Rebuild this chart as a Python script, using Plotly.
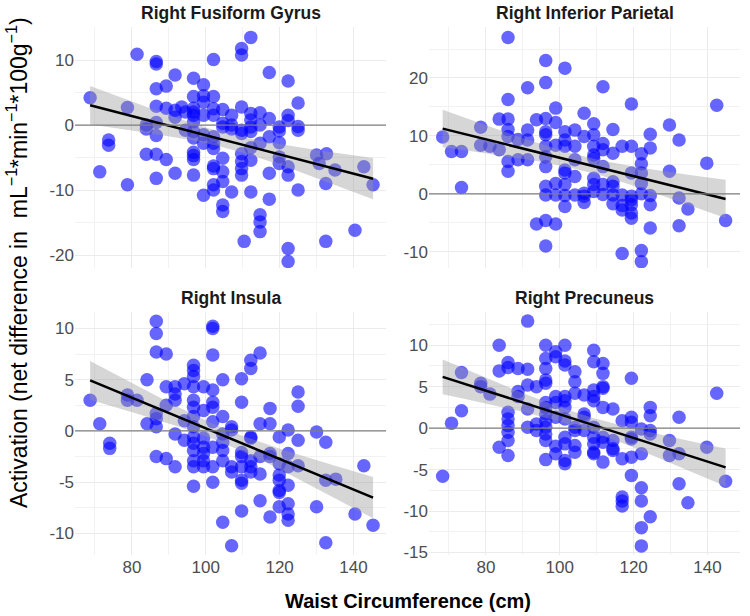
import numpy as np
import plotly.graph_objects as go

panel_titles = ["Right Fusiform Gyrus", "Right Inferior Parietal", "Right Insula", "Right Precuneus"]

# Each entry: (waist circumference, [activation values at that waist])
fusiform = [
    (68.7, [4.2]), (71.3, [-7.2]), (73.7, [-2.3, -3.1]), (78.8, [2.7, -9.2]), (81.4, [10.9]),
    (83.9, [0.0, -0.6, -4.5]), (86.6, [9.8, 9.4, 5.6, 2.9, 0.4, -1.6, -4.5, -8.2]),
    (89.3, [6.0, 2.6, -5.3]), (91.7, [7.7, 2.3, 1.2, -7.4]), (93.5, [2.8]), (94.5, [2.0, -0.8]),
    (96.7, [7.2, 4.4, 2.6, 2.0, 1.5, 0.5, -1.0, -2.0, -4.2, -4.7, -5.3, -7.7]),
    (99.4, [6.2, 4.5, 3.5, 1.5, -1.5, -2.8, -10.8]),
    (102.1, [10.1, 4.4, 2.5, 1.5, -1.8, -2.8, -3.6, -6.3, -6.7, -9.2, -10.0]),
    (104.6, [2.4, 0.3, -0.3, -5.1, -7.2, -8.7, -12.3, -13.3]),
    (107.0, [1.5, 0.0, -0.6, -10.3]),
    (109.7, [11.8, 10.8, 2.8, -0.8, -1.3, -4.4, -5.6, -6.7, -7.7]), (110.4, [-17.9]),
    (112.2, [13.5, 1.8, 0.8, -0.3, -1.0, -3.5, -5.4, -10.3]),
    (114.7, [1.9, 0.0, -2.8, -13.8, -14.9, -16.4]),
    (117.2, [8.1, 1.0, -1.8, -7.4, -11.4]),
    (119.9, [-0.3, -0.9, -2.7, -4.9, -5.9]),
    (122.3, [6.8, 1.5, 0.7, -6.4, -7.7, -19.0, -21.0]),
    (125.0, [3.4, -0.2, -0.8, -10.0]),
    (130.0, [-4.6]), (130.7, [-5.9]), (132.7, [-4.4]), (132.5, [-9.0, -17.9]), (135.0, [-6.9]),
    (140.4, [-16.2]), (142.8, [-6.4]), (145.3, [-9.2]),
]

inferior_parietal = [
    (68.3, [9.8]), (70.7, [7.3]), (73.4, [7.3, 1.1]), (78.6, [11.5, 8.4]), (81.1, [8.2]),
    (83.6, [12.9, 7.6]), (86.0, [27.0, 16.3, 12.9, 11.1, 9.9, 5.6, 3.9]),
    (88.7, [9.4, 5.9]), (91.3, [18.3, 11.0, 9.3, 5.9]), (93.7, [12.8, -5.2]),
    (96.2, [23.0, 19.2, 13.0, 10.7, 10.2, 8.2, 6.4, 4.7, 1.3, -0.2, -4.6, -9.0]),
    (98.9, [14.8, 12.3, 8.4, 1.8, -0.2, -5.2]),
    (101.4, [21.7, 10.7, 9.3, 8.2, 4.1, 3.6, 1.6, -0.3, -2.2]),
    (104.1, [11.0, 8.2, 5.9, 3.0, -0.2]),
    (106.6, [13.9, 9.9, 0.1, -0.4, -1.5]),
    (109.2, [12.1, 10.2, 8.2, 6.7, 6.1, 2.7, 1.6, 0.4]),
    (111.7, [18.5, 8.7, 7.6, 4.7, 1.6, -0.1]),
    (114.4, [11.1, 7.0, 2.1, 1.3, -0.2, -1.7]),
    (116.9, [8.2, -0.2, -2.0, -2.8, -10.3]),
    (119.4, [15.5, 8.2, 3.6, -0.4, -1.0, -1.9, -3.3, -4.2]),
    (122.1, [6.9, 5.2, 3.6, 1.8, 0.0, -9.8, -11.7]),
    (124.5, [10.3, 7.9, -0.3, -1.9, -5.9]),
    (129.7, [11.9, 3.9]), (132.3, [9.3, -0.7, -5.5]), (134.7, [-2.6]),
    (139.8, [5.3]), (142.5, [15.3]), (144.9, [-4.6]),
]

insula = [
    (68.7, [3.0]), (71.3, [0.7]), (74.0, [-1.2, -1.7]), (78.8, [3.5, 3.0]), (81.4, [3.0]),
    (84.1, [5.0, 0.7]), (86.6, [10.7, 9.5, 7.7, 1.7, 1.2, 0.4, -2.5]),
    (89.3, [7.5, 4.3, 2.5, -2.7]), (91.7, [4.3, 3.6, 3.0, -0.3, -3.5]),
    (94.2, [4.6, 1.0, -0.9]),
    (96.7, [6.4, 5.9, 5.3, 4.3, 3.0, 2.3, 1.4, 0.4, -0.6, -1.2, -1.9, -2.9, -3.5, -5.4]),
    (99.4, [4.3, 2.0, -0.7, -1.6, -2.2, -2.9, -3.5]),
    (101.9, [10.2, 10.0, 7.4, 4.0, 2.8, 2.3, 0.9, -1.6, -3.5, -5.0]),
    (104.6, [5.0, 1.4, -0.3, -1.1, -1.9, -2.9, -8.9]),
    (107.0, [0.4, 0.1, -3.5, -4.0, -11.2]),
    (109.7, [5.1, 2.8, -2.1, -2.5, -3.5, -4.8, -5.1, -7.8]),
    (112.2, [6.9, 6.1, -0.6, -0.7, -2.9, -3.5, -4.0]),
    (114.7, [7.6, 0.7, -2.5, -4.2, -6.8]),
    (117.4, [2.2, 0.7, -2.2, -2.5, -8.4]),
    (119.9, [-0.6, -3.2, -4.3, -4.8, -5.8, -6.0, -7.4]),
    (122.3, [0.1, -2.2, -3.5, -5.3, -7.1, -8.1, -8.7]),
    (125.0, [3.8, 2.4, -0.9, -3.4]),
    (130.0, [-0.1, -7.4]), (132.5, [-1.1, -4.8, -10.9]), (135.2, [-4.7]),
    (140.4, [-8.1]), (142.8, [-3.4]), (145.3, [-9.2]),
]

precuneus = [
    (68.3, [-5.8]), (70.7, [0.6]), (73.4, [6.7, 2.1]), (78.6, [5.4, 5.0]), (81.1, [4.1]),
    (83.6, [10.0, 6.9, -2.3]), (86.0, [7.9, 7.3, 1.9, 1.1, 0.3, -0.5, -1.5, -3.3]),
    (88.7, [7.2, 4.4, 3.8]), (91.3, [12.9, 7.1, 5.2, 2.3, 0.1]), (93.7, [5.0, 0.5, -0.3]),
    (96.2, [10.0, 8.4, 7.2, 5.8, 5.4, 3.1, 2.5, 1.7, 0.9, 0.1, -0.7, -1.5, -3.8]),
    (98.9, [9.2, 8.6, 3.8, 3.1, 1.3, -2.2, -3.1]),
    (101.4, [10.0, 8.1, 7.6, 3.8, 3.3, 2.5, 1.1, -1.1, -1.9, -3.9, -4.3]),
    (104.1, [6.8, 5.6, 4.2, 0.1, -0.3, -2.1, -2.9]),
    (106.6, [4.0, 1.7, 1.3, -0.3]),
    (109.2, [9.4, 8.0, 4.6, 3.8, 3.3, 0.1, -1.1, -1.9, -2.9, -3.1]),
    (111.7, [7.8, 6.6, 5.0, 4.8, 2.5, -1.1, -1.7, -4.1]),
    (114.4, [2.3, -1.5, -2.5, -2.7]),
    (116.9, [0.9, -3.7, -8.3, -8.8, -9.4]),
    (119.4, [6.0, 1.3, 0.7, -1.1, -1.3, -3.5, -5.7]),
    (122.1, [-0.1, -3.1, -7.2, -8.8, -12.0, -14.2]),
    (124.5, [2.5, 1.5, -0.3, -0.7, -10.7]),
    (129.7, [-1.5, -3.3]), (132.3, [1.3, -3.1, -6.7]), (134.7, [-9.0]),
    (139.8, [-2.3]), (142.5, [4.2]), (144.9, [-6.4]),
]

x_ticks = [80, 100, 120, 140]
x_minor_ticks = [70, 90, 110, 130]
y_ticks = [[-20, -10, 0, 10], [-10, 0, 10, 20], [-10, -5, 0, 5, 10], [-15, -10, -5, 0, 5, 10]]
y_minor = [5, 5, 2.5, 2.5]
y_ranges = [[-22.0, 15.1], [-12.8, 28.8], [-12.1, 11.6], [-15.3, 14.0]]
x_range = [64.6, 148.8]

panels = [fusiform, inferior_parietal, insula, precuneus]

W, H = 750, 616
col_px = [(75, 386), (429, 740)]
row_px = [(27, 268), (312, 555)]

fig = go.Figure()
font_family = "Liberation Sans, Arial, sans-serif"
T_CRIT = 1.976

for i, pts in enumerate(panels):
    xs = np.array([x for x, ys in pts for _ in ys], dtype=float)
    ys = np.array([y for _, yl in pts for y in yl], dtype=float)
    sfx = "" if i == 0 else str(i + 1)
    xa, ya = "x" + sfx, "y" + sfx
    fig.add_trace(go.Scatter(x=xs, y=ys, mode="markers", xaxis=xa, yaxis=ya,
                             marker=dict(size=13.5, color="rgba(0,0,255,0.6)", line=dict(width=0)),
                             showlegend=False, hoverinfo="skip"))
    # linear fit with 95% confidence band (as geom_smooth(method="lm"))
    n = len(xs)
    xm = xs.mean()
    sxx = ((xs - xm) ** 2).sum()
    b1 = ((xs - xm) * (ys - ys.mean())).sum() / sxx
    b0 = ys.mean() - b1 * xm
    s = np.sqrt(((ys - (b0 + b1 * xs)) ** 2).sum() / (n - 2))
    grid = np.linspace(xs.min(), xs.max(), 80)
    fit = b0 + b1 * grid
    se = s * np.sqrt(1.0 / n + (grid - xm) ** 2 / sxx)
    upper, lower = fit + T_CRIT * se, fit - T_CRIT * se
    fig.add_trace(go.Scatter(x=np.concatenate([grid, grid[::-1]]), y=np.concatenate([upper, lower[::-1]]),
                             mode="lines", fill="toself", fillcolor="rgba(153,153,153,0.4)",
                             line=dict(width=0), xaxis=xa, yaxis=ya, showlegend=False, hoverinfo="skip"))
    fig.add_trace(go.Scatter(x=grid, y=fit, mode="lines", line=dict(color="black", width=2.5),
                             xaxis=xa, yaxis=ya, showlegend=False, hoverinfo="skip"))

    r, c = divmod(i, 2)
    x0, x1 = col_px[c]
    y0, y1 = row_px[r]
    xkey = "xaxis" + sfx
    ykey = "yaxis" + sfx
    fig.update_layout({
        xkey: dict(domain=[x0 / W, x1 / W], anchor=ya, range=x_range, automargin=False,
                   tickvals=x_ticks, ticktext=[str(v) for v in x_ticks],
                   showticklabels=(r == 1), ticks="", showline=False, zeroline=False,
                   showgrid=True, gridcolor="#EBEBEB", gridwidth=1,
                   minor=dict(tickvals=x_minor_ticks, showgrid=True, gridcolor="#F2F2F2", gridwidth=1),
                   tickfont=dict(family=font_family, size=17, color="#4D4D4D")),
        ykey: dict(domain=[1 - y1 / H, 1 - y0 / H], anchor=xa, range=y_ranges[i], automargin=False,
                   tickvals=y_ticks[i], ticktext=[str(v) for v in y_ticks[i]],
                   ticks="", showline=False, zeroline=False,
                   showgrid=True, gridcolor="#EBEBEB", gridwidth=1,
                   minor=dict(dtick=y_minor[i] * 2, tick0=y_minor[i], showgrid=True, gridcolor="#F2F2F2", gridwidth=1),
                   tickfont=dict(family=font_family, size=17, color="#4D4D4D")),
    })
    fig.add_shape(type="line", xref=xa + " domain", yref=ya, x0=0, x1=1, y0=0, y1=0,
                  line=dict(color="#7F7F7F", width=1.2), layer="above")
    title_y = 13 if r == 0 else 298
    fig.add_annotation(x=(x0 + x1) / 2 / W, y=1 - title_y / H, xref="paper", yref="paper",
                       text="<b>" + panel_titles[i] + "</b>", showarrow=False,
                       xanchor="center", yanchor="middle",
                       font=dict(family=font_family, size=17.5, color="#1A1A1A"))

fig.add_annotation(x=408 / W, y=1 - 601 / H, xref="paper", yref="paper",
                   text="<b>Waist Circumference (cm)</b>", showarrow=False,
                   xanchor="center", yanchor="middle",
                   font=dict(family=font_family, size=20, color="black"))
fig.add_annotation(x=17 / W, y=1 - 263 / H, xref="paper", yref="paper",
                   text="Activation (net difference in  mL<sup>−1</sup>*min<sup>−1</sup>*100g<sup>−1</sup>)",
                   showarrow=False, textangle=-90, xanchor="center", yanchor="middle",
                   font=dict(family=font_family, size=23, color="black"))

fig.update_layout(width=W, height=H, margin=dict(l=0, r=0, t=0, b=0, autoexpand=False),
                  paper_bgcolor="white", plot_bgcolor="white", showlegend=False)

fig.write_html("out.html", config={"displayModeBar": False},
               post_script="document.body.style.margin='0px';")
